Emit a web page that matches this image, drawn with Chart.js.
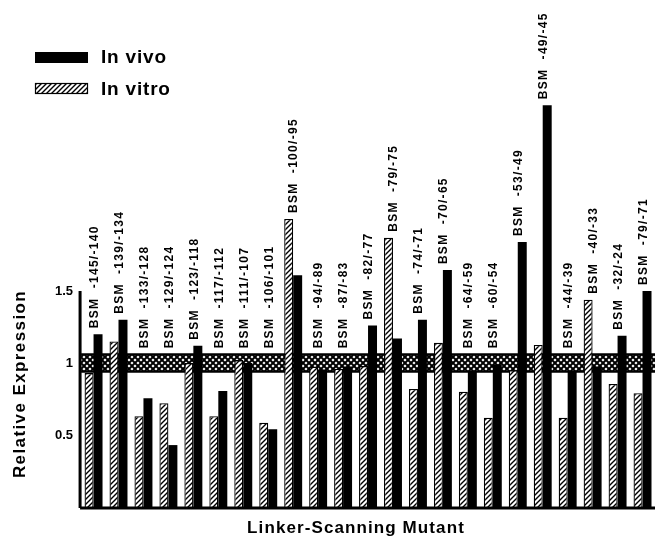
<!DOCTYPE html>
<html>
<head>
<meta charset="utf-8">
<title>Linker-Scanning Mutant</title>
<script src="https://cdn.jsdelivr.net/npm/chart.js@4"></script>
<style>
  body { margin: 0; background: #fff; }
</style>
</head>
<body>
<canvas id="lsChart" width="655" height="540"></canvas>
<script>
// mutants, left to right
const mutants = [
  "BSM  -145/-140", "BSM  -139/-134", "BSM  -133/-128", "BSM  -129/-124",
  "BSM  -123/-118", "BSM  -117/-112", "BSM  -111/-107", "BSM  -106/-101",
  "BSM  -100/-95", "BSM  -94/-89", "BSM  -87/-83", "BSM  -82/-77",
  "BSM  -79/-75", "BSM  -74/-71", "BSM  -70/-65", "BSM  -64/-59",
  "BSM  -60/-54", "BSM  -53/-49", "BSM  -49/-45", "BSM  -44/-39",
  "BSM  -40/-33", "BSM  -32/-24", "BSM  -79/-71",
];
const inVitro = [
  0.93, 1.15, 0.63, 0.72, 1.0, 0.63, 1.02, 0.585, 2.0, 0.975, 0.96, 0.98,
  1.87, 0.82, 1.14, 0.8, 0.62, 0.95, 1.125, 0.62, 1.44, 0.855, 0.79,
];
const inVivo = [
  1.2, 1.3, 0.755, 0.43, 1.12, 0.805, 1.0, 0.54, 1.61, 0.955, 0.975, 1.26,
  1.17, 1.3, 1.645, 0.94, 0.99, 1.84, 2.79, 0.94, 0.975, 1.19, 1.5,
];
// wild type range (shaded band)
const wtBand = [0.94, 1.06];
const yTicks = [0.5, 1, 1.5];

const BOLD = "'Liberation Sans', Arial, Helvetica, sans-serif";

// diagonal hatch for the in vitro bars
function makeHatch() {
  const c = document.createElement("canvas");
  c.width = 5;
  c.height = 5;
  const g = c.getContext("2d");
  g.fillStyle = "#fff";
  g.fillRect(0, 0, 5, 5);
  g.strokeStyle = "#000";
  g.lineWidth = 1.4;
  g.beginPath();
  g.moveTo(0, 5); g.lineTo(5, 0);
  g.moveTo(-1, 1); g.lineTo(1, -1);
  g.moveTo(4, 6); g.lineTo(6, 4);
  g.stroke();
  return g.createPattern(c, "repeat");
}

// cross hatch for the band
function makeCross() {
  const c = document.createElement("canvas");
  c.width = 6;
  c.height = 6;
  const g = c.getContext("2d");
  g.fillStyle = "#fff";
  g.fillRect(0, 0, 6, 6);
  g.strokeStyle = "#000";
  g.lineWidth = 2;
  g.beginPath();
  g.moveTo(0, 0); g.lineTo(6, 6);
  g.moveTo(0, 6); g.lineTo(6, 0);
  g.stroke();
  return g.createPattern(c, "repeat");
}

const hatch = makeHatch();
const cross = makeCross();

function spacedText(ctx, text, x, y, spacing) {
  ctx.letterSpacing = spacing + "px";
  ctx.fillText(text, x, y);
  ctx.letterSpacing = "0px";
}

const bandPlugin = {
  id: "band",
  beforeDatasetsDraw(chart) {
    const { ctx, chartArea } = chart;
    const y = chart.scales.y;
    const top = y.getPixelForValue(wtBand[1]);
    const bottom = y.getPixelForValue(wtBand[0]);
    ctx.save();
    ctx.fillStyle = cross;
    ctx.fillRect(chartArea.left, top, chartArea.right - chartArea.left, bottom - top);
    ctx.strokeStyle = "#000";
    ctx.lineWidth = 2;
    ctx.beginPath();
    ctx.moveTo(chartArea.left, top);
    ctx.lineTo(chartArea.right, top);
    ctx.moveTo(chartArea.left, bottom);
    ctx.lineTo(chartArea.right, bottom);
    ctx.stroke();
    ctx.restore();
  },
};

const decorPlugin = {
  id: "decor",
  afterDatasetsDraw(chart) {
    const { ctx, chartArea } = chart;
    const x = chart.scales.x;
    const y = chart.scales.y;
    ctx.save();

    // axes: bottom line and a left line that stops at 1.5
    ctx.strokeStyle = "#000";
    ctx.lineWidth = 3;
    ctx.beginPath();
    ctx.moveTo(chartArea.left - 1, chartArea.bottom + 1);
    ctx.lineTo(chartArea.right, chartArea.bottom + 1);
    ctx.moveTo(chartArea.left - 1, chartArea.bottom + 1);
    ctx.lineTo(chartArea.left - 1, y.getPixelForValue(yTicks[yTicks.length - 1]));
    ctx.stroke();

    // vertical mutant labels above each pair
    ctx.fillStyle = "#000";
    ctx.font = "bold 12px " + BOLD;
    ctx.textAlign = "left";
    ctx.textBaseline = "middle";
    mutants.forEach((name, i) => {
      const v = Math.max(inVitro[i], inVivo[i], wtBand[1]);
      const px = x.getPixelForValue(i);
      const py = y.getPixelForValue(v) - 6;
      ctx.save();
      ctx.translate(px + 1, py);
      ctx.rotate(-Math.PI / 2);
      spacedText(ctx, name, 0, 0, 1.3);
      ctx.restore();
    });

    // axis titles
    ctx.font = "bold 17px " + BOLD;
    ctx.textAlign = "center";
    ctx.textBaseline = "alphabetic";
    spacedText(ctx, "Linker-Scanning Mutant", 356, 533, 1.1);
    ctx.save();
    ctx.translate(25, 384);
    ctx.rotate(-Math.PI / 2);
    spacedText(ctx, "Relative Expression", 0, 0, 1.4);
    ctx.restore();

    // legend
    ctx.fillStyle = "#000";
    ctx.fillRect(35, 52, 53, 11);
    ctx.fillStyle = hatch;
    ctx.fillRect(35, 83, 53, 11);
    ctx.strokeStyle = "#000";
    ctx.lineWidth = 1.2;
    ctx.strokeRect(35.5, 83.5, 52, 10);
    ctx.fillStyle = "#000";
    ctx.font = "bold 19px " + BOLD;
    ctx.textAlign = "left";
    spacedText(ctx, "In vivo", 101, 63, 0.8);
    spacedText(ctx, "In vitro", 101, 95, 0.8);

    ctx.restore();
  },
};

const ctx = document.getElementById("lsChart").getContext("2d");
const lsChart = new Chart(ctx, {
  type: "bar",
  data: {
    labels: mutants,
    datasets: [
      {
        label: "In vitro",
        data: inVitro,
        backgroundColor: hatch,
        borderColor: "#000",
        borderWidth: 1.3,
        borderSkipped: "bottom",
      },
      {
        label: "In vivo",
        data: inVivo,
        backgroundColor: "#000",
        borderWidth: 0,
      },
    ],
  },
  options: {
    responsive: false,
    animation: false,
    devicePixelRatio: 1,
    layout: {
      padding: { left: 47, right: 0, top: 75, bottom: 33 },
    },
    datasets: {
      bar: {
        categoryPercentage: 0.72,
        barPercentage: 1.0,
      },
    },
    scales: {
      x: {
        display: false,
      },
      y: {
        min: 0,
        max: 3,
        afterBuildTicks: (scale) => {
          scale.ticks = yTicks.map((v) => ({ value: v }));
        },
        ticks: {
          color: "#000",
          padding: 8,
          font: { family: BOLD, size: 13, weight: "bold" },
          callback: (v) => String(v),
        },
        grid: { display: false, drawTicks: false },
        border: { display: false },
      },
    },
    plugins: {
      legend: { display: false },
      tooltip: { enabled: false },
    },
  },
  plugins: [bandPlugin, decorPlugin],
});
</script>
</body>
</html>
